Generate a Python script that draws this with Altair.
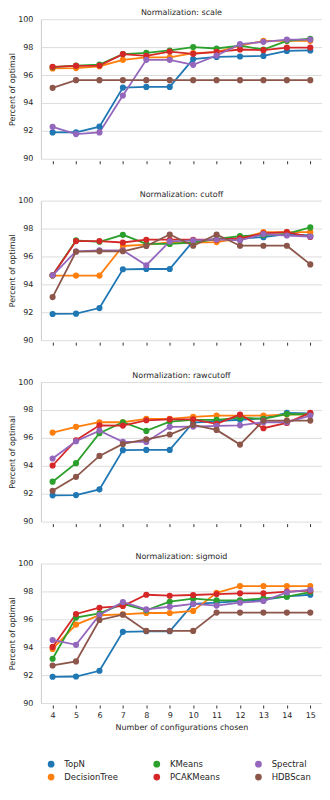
import altair as alt
import pandas as pd

ks = list(range(4, 16))
methods = ["TopN", "DecisionTree", "KMeans", "PCAKMeans", "Spectral", "HDBScan"]
colors = ["#1f77b4", "#ff7f0e", "#2ca02c", "#d62728", "#9467bd", "#8c564b"]
norms = ["scale", "cutoff", "rawcutoff", "sigmoid"]
y_ticks = [90, 92, 94, 96, 98, 100]

scale_topn = [91.89, 91.9, 92.3, 95.1, 95.15, 95.15, 97.14, 97.3, 97.33, 97.37, 97.73, 97.76]
scale_dtree = [96.47, 96.5, 96.63, 97.09, 97.26, 97.26, 97.57, 97.64, 98.1, 98.45, 98.45, 98.45]
scale_kmeans = [96.56, 96.68, 96.75, 97.5, 97.59, 97.76, 98.0, 97.9, 98.1, 97.83, 98.45, 98.6]
scale_pcak = [96.59, 96.66, 96.68, 97.5, 97.37, 97.68, 97.52, 97.66, 97.83, 97.78, 97.97, 97.97]
scale_spectral = [92.29, 91.77, 91.89, 94.53, 97.09, 97.09, 96.73, 97.4, 98.21, 98.38, 98.54, 98.54]
scale_hdb = [95.08, 95.63, 95.63, 95.63, 95.63, 95.63, 95.63, 95.63, 95.63, 95.63, 95.63, 95.63]

cutoff_topn = [91.88, 91.9, 92.3, 95.08, 95.1, 95.1, 97.1, 97.2, 97.3, 97.38, 97.6, 97.5]
cutoff_dtree = [94.63, 94.63, 94.63, 96.75, 96.84, 97.0, 97.0, 97.03, 97.3, 97.74, 97.74, 97.74]
cutoff_kmeans = [94.65, 97.15, 97.05, 97.55, 96.9, 96.9, 97.0, 97.25, 97.46, 97.53, 97.62, 98.08]
cutoff_pcak = [94.65, 97.1, 97.1, 97.0, 97.2, 97.2, 97.2, 97.2, 97.3, 97.65, 97.74, 97.4]
cutoff_spectral = [94.65, 96.37, 96.44, 96.44, 95.37, 97.08, 97.15, 97.22, 97.15, 97.6, 97.5, 97.43]
cutoff_hdb = [93.09, 96.34, 96.37, 96.37, 96.75, 97.57, 96.77, 97.57, 96.77, 96.77, 96.77, 95.43]

raw_topn = [91.88, 91.9, 92.31, 95.12, 95.14, 95.14, 97.1, 97.2, 97.3, 97.4, 97.79, 97.76]
raw_dtree = [96.38, 96.79, 97.12, 97.12, 97.36, 97.36, 97.5, 97.6, 97.6, 97.6, 97.67, 97.69]
raw_kmeans = [92.86, 94.19, 96.33, 97.12, 96.5, 97.17, 97.29, 97.29, 97.45, 97.36, 97.71, 97.69]
raw_pcak = [94.02, 95.83, 96.9, 96.88, 97.26, 97.33, 97.33, 97.0, 97.67, 96.69, 97.07, 97.79]
raw_spectral = [94.52, 95.76, 96.52, 95.71, 95.71, 96.79, 96.81, 96.86, 96.9, 97.12, 97.12, 97.6]
raw_hdb = [92.21, 93.21, 94.71, 95.57, 95.9, 96.24, 96.93, 96.57, 95.52, 97.24, 97.24, 97.24]

sig_topn = [91.88, 91.9, 92.31, 95.1, 95.14, 95.14, 97.1, 97.2, 97.3, 97.4, 97.64, 97.76]
sig_dtree = [93.88, 95.62, 96.29, 96.36, 96.45, 96.45, 96.6, 97.9, 98.38, 98.38, 98.38, 98.38]
sig_kmeans = [93.17, 96.12, 96.43, 97.11, 96.64, 97.26, 97.48, 97.36, 97.36, 97.5, 97.62, 97.95]
sig_pcak = [94.02, 96.38, 96.83, 96.95, 97.76, 97.69, 97.74, 97.81, 97.86, 97.86, 97.98, 98.05]
sig_spectral = [94.52, 94.17, 96.31, 97.24, 96.71, 96.9, 97.1, 96.98, 97.19, 97.31, 97.93, 98.12]
sig_hdb = [92.69, 92.98, 95.95, 96.33, 95.17, 95.17, 95.17, 96.48, 96.48, 96.48, 96.48, 96.48]

series = {
    "scale": [scale_topn, scale_dtree, scale_kmeans, scale_pcak, scale_spectral, scale_hdb],
    "cutoff": [cutoff_topn, cutoff_dtree, cutoff_kmeans, cutoff_pcak, cutoff_spectral, cutoff_hdb],
    "rawcutoff": [raw_topn, raw_dtree, raw_kmeans, raw_pcak, raw_spectral, raw_hdb],
    "sigmoid": [sig_topn, sig_dtree, sig_kmeans, sig_pcak, sig_spectral, sig_hdb],
}

rows = []
for norm in norms:
    for m, vals in zip(methods, series[norm]):
        for k, v in zip(ks, vals):
            rows.append({"norm": norm, "method": m, "k": k, "value": v})
df = pd.DataFrame(rows)

FONT = "DejaVu Sans"
TXT = "#262626"

panels = []
for i, norm in enumerate(norms):
    last = i == len(norms) - 1
    xaxis = alt.Axis(
        values=ks,
        labels=last,
        title="Number of configurations chosen" if last else None,
        grid=False,
        domain=False,
        ticks=True,
        tickSize=3,
        tickColor="#333333",
        offset=2,
        labelPadding=4,
        titlePadding=4,
    )
    yaxis = alt.Axis(
        values=y_ticks,
        title="Percent of optimal",
        ticks=False,
        labelPadding=8,
        titlePadding=1,
    )
    color = alt.Color(
        "method:N",
        scale=alt.Scale(domain=methods, range=colors),
        legend=alt.Legend(
            title=None,
            orient="bottom",
            direction="vertical",
            columns=3,
            columnPadding=34,
            rowPadding=4,
            offset=22,
            padding=6,
            labelFontSize=8.5,
            labelFont=FONT,
            labelColor=TXT,
            labelOffset=9,
            symbolType="circle",
            symbolSize=45,
            symbolStrokeWidth=0,
        ),
    )
    base = alt.Chart(df[df["norm"] == norm]).encode(
        x=alt.X("k:Q", scale=alt.Scale(domain=[3.5, 15.5], nice=False, zero=False), axis=xaxis),
        y=alt.Y("value:Q", scale=alt.Scale(domain=[90, 100], nice=False, zero=False), axis=yaxis),
        color=color,
        order=alt.Order("k:Q"),
    )
    lines = base.mark_line(strokeWidth=1.8)
    pts = base.mark_circle(size=38, opacity=1)
    panel = alt.layer(lines, pts).properties(
        width=282, height=140, title=f"Normalization: {norm}"
    )
    panels.append(panel)

chart = (
    alt.vconcat(*panels, spacing=26)
    .properties(padding={"top": 0, "left": 0, "right": 0, "bottom": 0})
    .configure_view(stroke=None)
    .configure_axis(
        labelFont=FONT,
        titleFont=FONT,
        labelFontSize=8,
        titleFontSize=8,
        titleFontWeight="normal",
        labelColor=TXT,
        titleColor=TXT,
        gridColor="#dddddd",
        gridWidth=1,
        domainColor="#cccccc",
    )
    .configure_title(font=FONT, fontSize=8, fontWeight="normal", color=TXT, offset=-2)
)

chart.save("out.html", embed_options={"renderer": "svg", "actions": False})
